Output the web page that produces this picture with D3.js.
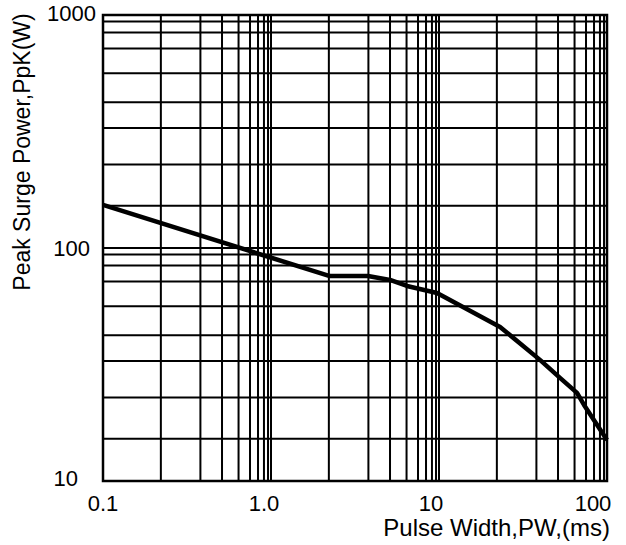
<!DOCTYPE html>
<html>
<head>
<meta charset="utf-8">
<script src="https://cdn.jsdelivr.net/npm/d3@7"></script>
<style>
body { margin: 0; background: #fff; }
text { font-family: Arial, "Liberation Sans", sans-serif; fill: #000; }
</style>
</head>
<body>
<svg id="chart" width="626" height="545"></svg>
<script>
// curve
var pulseWidth = [0.1, 2.24, 3.78, 5.11, 6.45, 9.73, 23.1, 39.9, 52.5, 66.3, 73.0, 100];
var peakPower  = [153, 75.8, 75.8, 72.9, 68.7, 64.1, 45.8, 33.1, 27.7, 23.9, 21.2, 15.0];

// the grid is not a true log grid, these are where the lines sit inside a decade
var xDecades = [0.1, 1, 10, 100];
var xGridMult = [2.21, 3.80, 5.11, 6.41, 7.50, 8.37, 9.08, 9.60];
var yDecades = [10, 100, 1000];
var yGridMult = [1.52, 2.28, 3.27, 4.22, 5.63, 7.18, 8.41, 9.38];

var xTickValues = [0.1, 1, 10, 100];
var xTickLabels = ['0.1', '1.0', '10', '100'];
var yTickValues = [10, 100, 1000];
var yTickLabels = ['10', '100', '1000'];

var pLeft = 103, pRight = 607, pTop = 15, pBottom = 481;

var svg = d3.select('#chart');

var x = d3.scaleLog().domain([0.1, 100]).range([pLeft, pRight]);
var y = d3.scaleLog().domain([10, 1000]).range([pBottom, pTop]);

var xGrid = [];
for (var i = 0; i < xDecades.length; i++) {
	xGrid.push(xDecades[i]);
	if (i < xDecades.length - 1)
		for (var j = 0; j < xGridMult.length; j++) xGrid.push(xDecades[i] * xGridMult[j]);
}
var yGrid = [];
for (var i = 0; i < yDecades.length; i++) {
	yGrid.push(yDecades[i]);
	if (i < yDecades.length - 1)
		for (var j = 0; j < yGridMult.length; j++) yGrid.push(yDecades[i] * yGridMult[j]);
}

var grid = svg.append('g').attr('stroke', '#000').attr('stroke-width', 2);

grid.selectAll('line.v').data(xGrid).enter().append('line')
	.attr('class', 'v')
	.attr('x1', function(d){ return x(d); })
	.attr('x2', function(d){ return x(d); })
	.attr('y1', pTop).attr('y2', pBottom);

grid.selectAll('line.h').data(yGrid).enter().append('line')
	.attr('class', 'h')
	.attr('y1', function(d){ return y(d); })
	.attr('y2', function(d){ return y(d); })
	.attr('x1', pLeft).attr('x2', pRight);

svg.append('rect')
	.attr('x', pLeft).attr('y', pTop)
	.attr('width', pRight - pLeft).attr('height', pBottom - pTop)
	.attr('fill', 'none').attr('stroke', '#000').attr('stroke-width', 2.5);

var line = d3.line()
	.x(function(d){ return x(d[0]); })
	.y(function(d){ return y(d[1]); });

svg.append('path')
	.datum(d3.zip(pulseWidth, peakPower))
	.attr('d', line)
	.attr('fill', 'none')
	.attr('stroke', '#000')
	.attr('stroke-width', 4.5)
	.attr('stroke-linejoin', 'round');

// tick labels
var xLabelDx = [0, -7, -8, -14];
svg.selectAll('text.xt').data(xTickValues).enter().append('text')
	.attr('class', 'xt')
	.attr('x', function(d, i){ return x(d) + xLabelDx[i]; })
	.attr('y', 511)
	.attr('text-anchor', 'middle')
	.style('font-size', '22px')
	.text(function(d, i){ return xTickLabels[i]; });

var yLabelX = [78, 90, 96];
var yLabelDy = [5, 8, 6];
svg.selectAll('text.yt').data(yTickValues).enter().append('text')
	.attr('class', 'yt')
	.attr('x', function(d, i){ return yLabelX[i]; })
	.attr('y', function(d, i){ return y(d) + yLabelDy[i]; })
	.attr('text-anchor', 'end')
	.style('font-size', '22px')
	.text(function(d, i){ return yTickLabels[i]; });

svg.append('text')
	.attr('x', 610).attr('y', 536)
	.attr('text-anchor', 'end')
	.style('font-size', '24px')
	.text('Pulse Width,PW,(ms)');

svg.append('text')
	.attr('transform', 'translate(30,152) rotate(-90)')
	.attr('text-anchor', 'middle')
	.style('font-size', '23px')
	.text('Peak Surge Power,PpK(W)');
</script>
</body>
</html>
